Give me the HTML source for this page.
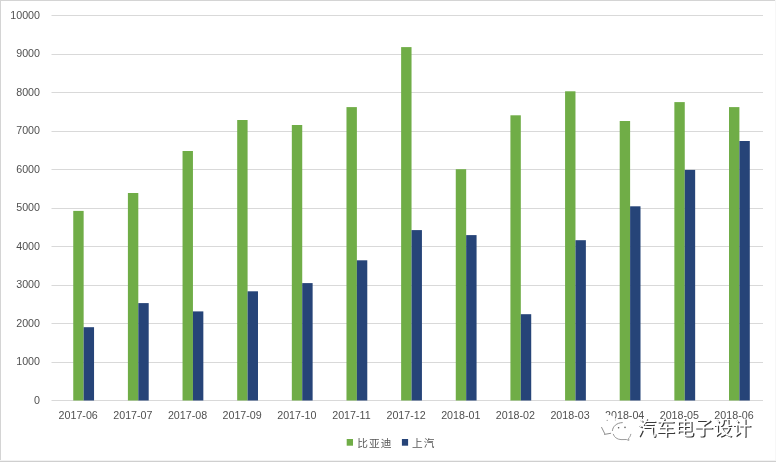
<!DOCTYPE html>
<html><head><meta charset="utf-8"><title>chart</title>
<style>
html,body{margin:0;padding:0;background:#fff;}
body{width:776px;height:462px;overflow:hidden;position:relative;font-family:"Liberation Sans","Noto Sans CJK SC",sans-serif;}
svg{position:absolute;left:0;top:0;display:block}
.ax{font-family:"Liberation Sans","Noto Sans CJK SC",sans-serif;font-size:10.7px;fill:#505050}
.lg{font-family:"Liberation Sans","Noto Sans CJK SC",sans-serif;font-size:10.7px;letter-spacing:1.1px;fill:#595959}
.wm{font-family:"Liberation Sans","Noto Sans CJK SC",sans-serif;font-size:19px;}
</style></head><body>
<svg width="776" height="462" viewBox="0 0 776 462">
<rect x="0" y="0" width="776" height="462" fill="#fff"/>
<rect x="0" y="0" width="776" height="1" fill="#d4d4d4"/>
<rect x="0" y="0" width="1" height="462" fill="#d4d4d4"/>
<rect x="775" y="0" width="1" height="462" fill="#f7f7f7"/>
<rect x="0" y="460" width="776" height="1" fill="#f2f2f2"/>
<rect x="0" y="461" width="776" height="1" fill="#cfcfcf"/>

<rect x="51.5" y="400" width="711.5" height="1" fill="#d9d9d9"/>
<text class="ax" x="40" y="403.90" text-anchor="end">0</text>
<rect x="51.5" y="362" width="711.5" height="1" fill="#d9d9d9"/>
<text class="ax" x="40" y="365.40" text-anchor="end">1000</text>
<rect x="51.5" y="323" width="711.5" height="1" fill="#d9d9d9"/>
<text class="ax" x="40" y="326.90" text-anchor="end">2000</text>
<rect x="51.5" y="285" width="711.5" height="1" fill="#d9d9d9"/>
<text class="ax" x="40" y="288.40" text-anchor="end">3000</text>
<rect x="51.5" y="246" width="711.5" height="1" fill="#d9d9d9"/>
<text class="ax" x="40" y="249.90" text-anchor="end">4000</text>
<rect x="51.5" y="208" width="711.5" height="1" fill="#d9d9d9"/>
<text class="ax" x="40" y="211.40" text-anchor="end">5000</text>
<rect x="51.5" y="169" width="711.5" height="1" fill="#d9d9d9"/>
<text class="ax" x="40" y="172.90" text-anchor="end">6000</text>
<rect x="51.5" y="131" width="711.5" height="1" fill="#d9d9d9"/>
<text class="ax" x="40" y="134.40" text-anchor="end">7000</text>
<rect x="51.5" y="92" width="711.5" height="1" fill="#d9d9d9"/>
<text class="ax" x="40" y="95.90" text-anchor="end">8000</text>
<rect x="51.5" y="54" width="711.5" height="1" fill="#d9d9d9"/>
<text class="ax" x="40" y="57.40" text-anchor="end">9000</text>
<rect x="51.5" y="15" width="711.5" height="1" fill="#d9d9d9"/>
<text class="ax" x="40" y="18.90" text-anchor="end">10000</text>
<rect x="73.25" y="210.90" width="10.4" height="189.60" fill="#70ad47"/>
<rect x="83.65" y="327.20" width="10.4" height="73.30" fill="#264478"/>
<text class="ax" x="78.22" y="419" text-anchor="middle">2017-06</text>
<rect x="127.90" y="193.00" width="10.4" height="207.50" fill="#70ad47"/>
<rect x="138.30" y="303.10" width="10.4" height="97.40" fill="#264478"/>
<text class="ax" x="132.87" y="419" text-anchor="middle">2017-07</text>
<rect x="182.54" y="151.00" width="10.4" height="249.50" fill="#70ad47"/>
<rect x="192.94" y="311.40" width="10.4" height="89.10" fill="#264478"/>
<text class="ax" x="187.52" y="419" text-anchor="middle">2017-08</text>
<rect x="237.19" y="120.00" width="10.4" height="280.50" fill="#70ad47"/>
<rect x="247.59" y="291.30" width="10.4" height="109.20" fill="#264478"/>
<text class="ax" x="242.16" y="419" text-anchor="middle">2017-09</text>
<rect x="291.83" y="125.00" width="10.4" height="275.50" fill="#70ad47"/>
<rect x="302.23" y="283.10" width="10.4" height="117.40" fill="#264478"/>
<text class="ax" x="296.81" y="419" text-anchor="middle">2017-10</text>
<rect x="346.48" y="107.10" width="10.4" height="293.40" fill="#70ad47"/>
<rect x="356.88" y="260.30" width="10.4" height="140.20" fill="#264478"/>
<text class="ax" x="351.45" y="419" text-anchor="middle">2017-11</text>
<rect x="401.13" y="47.10" width="10.4" height="353.40" fill="#70ad47"/>
<rect x="411.53" y="230.10" width="10.4" height="170.40" fill="#264478"/>
<text class="ax" x="406.10" y="419" text-anchor="middle">2017-12</text>
<rect x="455.77" y="169.20" width="10.4" height="231.30" fill="#70ad47"/>
<rect x="466.17" y="235.10" width="10.4" height="165.40" fill="#264478"/>
<text class="ax" x="460.75" y="419" text-anchor="middle">2018-01</text>
<rect x="510.42" y="115.30" width="10.4" height="285.20" fill="#70ad47"/>
<rect x="520.82" y="314.20" width="10.4" height="86.30" fill="#264478"/>
<text class="ax" x="515.39" y="419" text-anchor="middle">2018-02</text>
<rect x="565.07" y="91.30" width="10.4" height="309.20" fill="#70ad47"/>
<rect x="575.47" y="240.20" width="10.4" height="160.30" fill="#264478"/>
<text class="ax" x="570.04" y="419" text-anchor="middle">2018-03</text>
<rect x="619.71" y="121.00" width="10.4" height="279.50" fill="#70ad47"/>
<rect x="630.11" y="206.30" width="10.4" height="194.20" fill="#264478"/>
<text class="ax" x="624.68" y="419" text-anchor="middle">2018-04</text>
<rect x="674.36" y="102.10" width="10.4" height="298.40" fill="#70ad47"/>
<rect x="684.76" y="169.90" width="10.4" height="230.60" fill="#264478"/>
<text class="ax" x="679.33" y="419" text-anchor="middle">2018-05</text>
<rect x="729.00" y="107.10" width="10.4" height="293.40" fill="#70ad47"/>
<rect x="739.40" y="141.00" width="10.4" height="259.50" fill="#264478"/>
<text class="ax" x="733.98" y="419" text-anchor="middle">2018-06</text>
<rect x="346.7" y="439" width="6.3" height="6.7" fill="#70ad47"/>
<text class="lg" x="357.2" y="446.6">比亚迪</text>
<rect x="401.9" y="439" width="6.2" height="6.7" fill="#264478"/>
<text class="lg" x="411.9" y="446.6">上汽</text>
<g fill="none" stroke-linecap="round" stroke-linejoin="round">
<ellipse cx="608" cy="423.5" rx="9" ry="8.5" fill="#fff" stroke="none"/>
<path d="M601.5 428 L603.5 434.5 L609 431 Z" fill="#fff" stroke="none"/>
<ellipse cx="622" cy="430.8" rx="9.8" ry="9" fill="#fff" stroke="none"/>
<path d="M601.6 427.4 L604.7 433.6 M604.5 434.4 L610.7 433.3" stroke="#7a7a7a" stroke-width="0.85"/>
<path d="M612.4 430.5 C612.8 426.5 616.5 422.8 622.3 422.6" stroke="#7a7a7a" stroke-width="0.85"/>
<path d="M613.3 434.3 C614.5 437.5 617 439.3 621 439.6 L626.3 439.5 L628.9 440.4 L628.6 438.2 C629.8 437.2 630.5 436 630.8 434.3" stroke="#8a8a8a" stroke-width="0.85"/>
<circle cx="618.6" cy="427.8" r="0.8" fill="#555" stroke="none"/>
<circle cx="625" cy="427.4" r="0.8" fill="#666" stroke="none"/>
<circle cx="607.2" cy="420.4" r="0.6" fill="#999" stroke="none"/>
<circle cx="615.4" cy="420" r="0.6" fill="#aaa" stroke="none"/>
</g>
<text class="wm" x="638.2" y="436" fill="#3a3a3a">汽车电子设计</text>
<text class="wm" x="637" y="434.8" fill="#fff">汽车电子设计</text>
</svg></body></html>
